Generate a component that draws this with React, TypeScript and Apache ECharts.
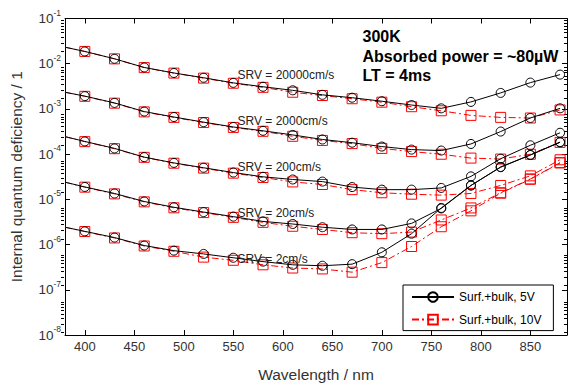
import React, { useEffect, useRef } from 'react';
import * as echarts from 'echarts';

const wavelengths = [380, 400, 430, 460, 490, 520, 550, 580, 610, 640, 670, 700, 730, 760, 790, 820, 850, 880];

const srv20000_5V = [0.0232, 0.01866, 0.01285, 0.00826, 0.00624, 0.00489, 0.00377, 0.00309, 0.00258, 0.00205, 0.00177, 0.00148, 0.00122, 0.00103, 0.00143, 0.00226, 0.00382, 0.00574];
const srv20000_10V = [0.0232, 0.0187, 0.0128, 0.0082, 0.0062, 0.0048, 0.0037, 0.0030, 0.00234, 0.00198, 0.00168, 0.00141, 0.00112, 0.00091, 0.00072, 0.00065, 0.00063, 0.00095];
const srv2000_5V = [0.00234, 0.00192, 0.00136, 0.000875, 0.000662, 0.00051, 0.000399, 0.000328, 0.000266, 0.000211, 0.000179, 0.000147, 0.000126, 0.00012, 0.000168, 0.000316, 0.000631, 0.00103];
const srv2000_10V = [0.00234, 0.0019, 0.00134, 0.00086, 0.00065, 0.0005, 0.00039, 0.00032, 0.000248, 0.000201, 0.000171, 0.000134, 0.000114, 0.0000995, 0.0000818, 0.0000779, 0.0000995, 0.000182];
const srv200_5V = [0.000244, 0.000191, 0.000134, 0.0000859, 0.000064, 0.00005, 0.0000392, 0.0000315, 0.0000275, 0.0000247, 0.0000187, 0.0000164, 0.0000164, 0.0000179, 0.0000322, 0.0000791, 0.000157, 0.000297];
const srv200_10V = [0.000244, 0.000189, 0.000132, 0.000085, 0.000063, 0.000049, 0.000038, 0.0000305, 0.0000243, 0.0000213, 0.0000164, 0.000014, 0.000013, 0.0000124, 0.0000135, 0.0000203, 0.0000331, 0.0000752];
const srv20_5V = [0.000024, 0.0000188, 0.0000135, 0.00000898, 0.00000668, 0.00000523, 0.00000415, 0.00000325, 0.00000285, 0.00000242, 0.00000216, 0.00000216, 0.00000294, 0.0000063, 0.0000203, 0.000052, 0.0000962, 0.000185];
const srv20_10V = [0.000024, 0.0000186, 0.0000132, 0.0000088, 0.0000065, 0.0000051, 0.000004, 0.0000031, 0.00000254, 0.00000216, 0.00000183, 0.00000174, 0.00000189, 0.0000035, 0.00000646, 0.000014, 0.0000282, 0.0000649];
const srv2_5V = [0.00000242, 0.00000196, 0.00000143, 0.000000953, 0.000000734, 0.000000621, 0.000000511, 0.00000042, 0.000000357, 0.00000034, 0.000000369, 0.000000675, 0.00000174, 0.00000646, 0.0000203, 0.0000515, 0.0000955, 0.000183];
const srv2_10V = [0.00000242, 0.00000194, 0.0000014, 0.00000093, 0.00000071, 0.000000528, 0.000000449, 0.000000357, 0.000000303, 0.000000289, 0.000000245, 0.000000399, 0.000000906, 0.00000248, 0.00000557, 0.0000137, 0.0000278, 0.000064];

const series5V = [srv20000_5V, srv2000_5V, srv200_5V, srv20_5V, srv2_5V];
const series10V = [srv20000_10V, srv2000_10V, srv200_10V, srv20_10V, srv2_10V];

const srvLabels = ['SRV = 20000cm/s', 'SRV = 2000cm/s', 'SRV = 200cm/s', 'SRV = 20cm/s', 'SRV = 2cm/s'];
const xTickValues = [400, 450, 500, 550, 600, 650, 700, 750, 800, 850];
const decadeExponents = [-8, -7, -6, -5, -4, -3, -2];
const minorMultipliers = [2, 3, 4, 5, 6, 7, 8, 9];
const legendNames = ['Surf.+bulk, 5V', 'Surf.+bulk, 10V'];
const annotationLines = ['300K', 'Absorbed power = ~80\u00B5W', 'LT = 4ms'];

const FONT = '"Liberation Sans", Arial, Helvetica, sans-serif';

export default function App() {
  const ref = useRef<HTMLDivElement>(null);

  useEffect(() => {
    document.body.style.margin = '0';
    const chart = echarts.init(ref.current!, null, { renderer: 'svg' });

    const minorTicks: number[] = [];
    decadeExponents.forEach((e) => {
      minorMultipliers.forEach((m) => minorTicks.push(e + Math.log10(m)));
    });

    const mk = (vals: number[]) =>
      wavelengths.map((w, i) => (i === 0 ? { value: [w, vals[i]], symbol: 'none' } : [w, vals[i]]));

    const series: any[] = [];
    series5V.forEach((vals, k) => {
      series.push({
        name: legendNames[0],
        type: 'line',
        xAxisIndex: 0,
        yAxisIndex: 0,
        data: mk(vals),
        symbol: 'circle',
        symbolSize: 9,
        lineStyle: { color: '#000', width: 1 },
        itemStyle: { color: 'rgba(0,0,0,0)', borderColor: '#000', borderWidth: 1 },
        emphasis: { disabled: true },
        z: 3,
      });
      series.push({
        name: legendNames[1],
        type: 'line',
        xAxisIndex: 0,
        yAxisIndex: 0,
        data: mk(series10V[k]),
        symbol: 'rect',
        symbolSize: 10,
        lineStyle: { color: '#ff0000', width: 1, type: [7, 3, 2, 3] },
        itemStyle: { color: 'rgba(0,0,0,0)', borderColor: '#ff0000', borderWidth: 1 },
        emphasis: { disabled: true },
        z: 2,
      });
    });

    const srvY = [74.5, 120.7, 166.7, 212.7, 259];
    const graphics: any[] = srvLabels.map((t, i) => ({
      type: 'text',
      x: 237.5,
      y: srvY[i],
      style: { text: t, font: `12px ${FONT}`, fill: '#222', verticalAlign: 'middle' },
      z: 10,
    }));
    const annY = [36, 56, 75];
    annotationLines.forEach((t, i) => {
      graphics.push({
        type: 'text',
        x: 362.5,
        y: annY[i],
        style: { text: t, font: `bold 16px ${FONT}`, fill: '#000', verticalAlign: 'middle' },
        z: 10,
      });
    });

    const axisLine = { show: true, lineStyle: { color: '#000', width: 1 } };
    const gridRect = { left: 61, right: 2, top: 18.5, bottom: 40.3, containLabel: false };

    chart.setOption({
      animation: false,
      grid: [gridRect, { ...gridRect }],
      legend: {
        data: legendNames,
        orient: 'vertical',
        left: 403,
        top: 285,
        itemWidth: 42,
        itemHeight: 12,
        itemGap: 10.6,
        padding: [6, 12, 5, 8],
        borderColor: '#000',
        borderWidth: 1,
        borderRadius: 0,
        backgroundColor: '#fff',
        textStyle: { fontSize: 12, color: '#000', fontFamily: FONT },
        selectedMode: false,
      },
      xAxis: [
        {
          type: 'value',
          gridIndex: 0,
          position: 'bottom',
          min: 380,
          max: 887,
          axisLine,
          axisTick: { show: true, inside: true, length: 5, customValues: xTickValues, lineStyle: { color: '#000' } },
          axisLabel: { show: true, customValues: xTickValues, margin: 5, fontSize: 13, color: '#333', fontFamily: FONT },
          splitLine: { show: false },
          name: 'Wavelength / nm',
          nameLocation: 'middle',
          nameGap: 31,
          nameTextStyle: { fontSize: 15.5, color: '#333', fontFamily: FONT },
        },
        {
          type: 'value',
          gridIndex: 0,
          position: 'top',
          min: 380,
          max: 887,
          axisLine,
          axisTick: { show: true, inside: true, length: 5, customValues: xTickValues, lineStyle: { color: '#000' } },
          axisLabel: { show: false },
          splitLine: { show: false },
        },
        {
          type: 'value',
          gridIndex: 1,
          position: 'bottom',
          min: 380,
          max: 887,
          show: false,
        },
      ],
      yAxis: [
        {
          type: 'log',
          gridIndex: 0,
          logBase: 10,
          position: 'left',
          min: 1e-8,
          max: 1e-1,
          splitNumber: 7,
          axisLine,
          axisTick: { show: true, inside: true, length: 5, lineStyle: { color: '#000' } },
          axisLabel: {
            show: true,
            margin: 4,
            color: '#333',
            fontFamily: FONT,
            formatter: (v: number) => `{b|10}{s|${Math.round(Math.log10(v))}}`,
            rich: {
              b: { fontSize: 13.5, color: '#333', fontFamily: FONT },
              s: { fontSize: 8.5, color: '#333', fontFamily: FONT, padding: [0, 0, 12, 0] },
            },
          },
          splitLine: { show: false },
          name: 'Internal quantum deficiency / 1',
          nameLocation: 'middle',
          nameGap: 41,
          nameRotate: 90,
          nameTextStyle: { fontSize: 15.5, color: '#333', fontFamily: FONT },
        },
        {
          type: 'log',
          gridIndex: 0,
          logBase: 10,
          position: 'right',
          min: 1e-8,
          max: 1e-1,
          splitNumber: 7,
          axisLine,
          axisTick: { show: true, inside: true, length: 5, lineStyle: { color: '#000' } },
          axisLabel: { show: false },
          splitLine: { show: false },
        },
        {
          type: 'value',
          gridIndex: 1,
          position: 'left',
          min: -8,
          max: -1,
          axisLine: { show: false },
          axisTick: { show: true, inside: true, length: 3, customValues: minorTicks, lineStyle: { color: '#000', width: 1 } },
          axisLabel: { show: false },
          splitLine: { show: false },
        },
        {
          type: 'value',
          gridIndex: 1,
          position: 'right',
          min: -8,
          max: -1,
          axisLine: { show: false },
          axisTick: { show: true, inside: true, length: 3, customValues: minorTicks, lineStyle: { color: '#000', width: 1 } },
          axisLabel: { show: false },
          splitLine: { show: false },
        },
      ],
      graphic: graphics,
      series,
    });

    return () => chart.dispose();
  }, []);

  return (
    <div
      ref={ref}
      style={{ position: 'absolute', left: 0, top: 0, width: 569, height: 387, background: '#fff' }}
    />
  );
}
